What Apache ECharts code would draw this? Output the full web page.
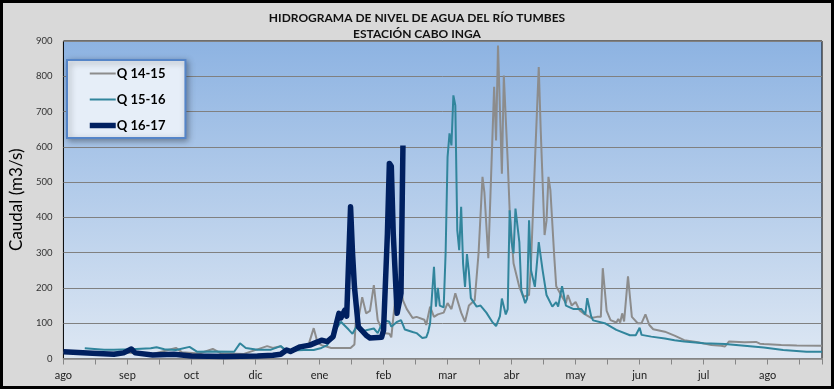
<!DOCTYPE html>
<html>
<head>
<meta charset="utf-8">
<script src="https://cdn.jsdelivr.net/npm/echarts@6/dist/echarts.min.js"></script>
<style>
html,body{margin:0;padding:0;background:#d9d9d9;}
#chart{width:834px;height:389px;}
</style>
</head>
<body>
<div id="chart"></div>
<script>
// Month tick labels (one every 33 days on the day axis)
var monthLabels = ['ago','sep','oct','dic','ene','feb','mar','abr','may','jun','jul','ago'];
var labelStep = 33;
var lastDay = 391;

// [day, caudal m3/s]
var q1415 = [[0,17],[15,15],[31,17],[46,13],[58,30],[61,18],[70,14],[77,27],[81,15],[93,13],[105,35],[108,30],[112,35],[115,20],[121,30],[126,33],[129,86],[131,45],[133,38],[138,30],[148,30],[150,40],[151,137],[152,110],[154,174],[156,128],[158,135],[160,208],[162,109],[165,72],[168,70],[169,60],[172,222],[174,200],[175,165],[177,140],[180,115],[182,118],[186,110],[187,95],[189,147],[191,118],[193,125],[196,130],[198,157],[200,140],[202,185],[205,130],[207,104],[209,150],[212,165],[214,300],[216,515],[217,470],[219,284],[222,770],[223,618],[224,887],[225,890],[226,524],[227,802],[228,680],[229,560],[230,420],[232,270],[235,203],[237,175],[240,180],[241,270],[243,553],[245,826],[246,650],[248,350],[249,390],[250,515],[251,477],[253,288],[254,205],[257,175],[259,157],[260,180],[262,150],[264,160],[266,137],[268,128],[272,115],[275,118],[276,113],[277,118],[278,256],[280,135],[282,109],[285,102],[286,112],[287,102],[288,128],[289,105],[291,233],[293,118],[296,100],[298,100],[300,125],[302,95],[304,83],[310,76],[315,65],[320,52],[327,46],[334,38],[339,36],[341,34],[342,38],[343,48],[351,46],[357,47],[359,42],[361,41],[370,38],[378,37],[391,36]];

var q1516 = [[11,29],[21,25],[26,25],[35,26],[45,29],[48,32],[52,26],[58,24],[65,33],[69,19],[77,20],[88,19],[91,43],[94,30],[100,25],[107,25],[112,35],[115,22],[124,24],[129,24],[133,30],[136,38],[138,58],[139,72],[143,104],[147,82],[149,70],[151,90],[153,78],[156,80],[160,85],[162,72],[165,109],[168,104],[169,90],[172,104],[174,109],[176,82],[180,75],[182,72],[185,58],[187,60],[188,75],[189,100],[191,260],[192,147],[193,200],[194,150],[196,145],[197,300],[198,571],[199,638],[200,604],[201,746],[202,717],[203,364],[204,307],[205,430],[206,269],[207,203],[208,296],[209,245],[210,171],[213,147],[215,150],[216,147],[218,130],[221,104],[223,92],[225,120],[226,170],[228,125],[229,140],[230,420],[231,330],[232,298],[233,425],[235,330],[236,194],[238,157],[239,170],[240,392],[241,250],[243,203],[245,330],[247,250],[249,180],[252,147],[254,160],[255,147],[257,205],[259,150],[263,140],[267,140],[269,125],[270,171],[272,120],[273,108],[279,100],[285,81],[292,66],[295,66],[297,87],[298,67],[303,62],[310,57],[315,52],[320,48],[330,43],[341,41],[351,36],[361,31],[371,24],[383,19],[391,19]];

var q1617 = [[0,19],[5,18],[15,15],[26,12],[31,16],[35,27],[37,16],[46,10],[57,12],[66,7],[83,6],[100,7],[108,9],[112,12],[115,24],[117,20],[122,33],[127,38],[131,47],[133,52],[136,48],[139,62],[142,128],[143,115],[145,137],[146,120],[148,430],[149,300],[150,203],[152,90],[156,66],[158,58],[164,60],[165,80],[167,355],[168,553],[169,545],[170,355],[172,128],[174,185],[175,604]];

var seriesNames = ['Q 14-15','Q 15-16','Q 16-17'];

var chart = echarts.init(document.getElementById('chart'));
var font = 'Lato, "Open Sans", sans-serif';
chart.setOption({
  backgroundColor: '#d9d9d9',
  animation: false,
  title: {
    text: 'HIDROGRAMA DE NIVEL DE AGUA DEL RÍO TUMBES\nESTACIÓN CABO INGA',
    left: 'center', top: 5,
    textStyle: {fontFamily: font, fontSize: 12, fontWeight: 'bold', color: '#111', lineHeight: 16}
  },
  legend: {
    orient: 'vertical', left: 67, top: 60,
    padding: [7, 20, 6, 20],
    itemWidth: 26, itemHeight: 14, itemGap: 13,
    backgroundColor: '#e6eef8',
    borderColor: '#5585c8', borderWidth: 2,
    shadowBlur: 6, shadowColor: 'rgba(0,0,0,0.35)', shadowOffsetX: 2, shadowOffsetY: 2,
    itemStyle: {opacity: 0},
    textStyle: {fontFamily: font, fontSize: 13, fontWeight: 'bold', color: '#000', padding: [0,0,0,-4]},
    data: [
      {name: seriesNames[0], lineStyle: {width: 2}},
      {name: seriesNames[1], lineStyle: {width: 2}},
      {name: seriesNames[2], lineStyle: {width: 5.5}}
    ]
  },
  grid: {
    left: 60, right: 12, top: 41, bottom: 30.5,
    show: true,
    borderColor: '#000', borderWidth: 1,
    backgroundColor: new echarts.graphic.LinearGradient(0,0,0,1,[
      {offset: 0, color: '#8db3e2'}, {offset: 1, color: '#dde7f3'}
    ])
  },
  xAxis: {
    type: 'value', min: 0, max: lastDay, interval: labelStep,
    splitLine: {show: false},
    axisLine: {show: true, lineStyle: {color: '#868686', width: 1.5}},
    axisTick: {show: true, length: 6, inside: false, lineStyle: {color: '#868686'}},
    minorTick: {show: true, splitNumber: 2, length: 6, lineStyle: {color: '#868686'}},
    axisLabel: {
      fontFamily: font, fontSize: 11, color: '#222', margin: 11,
      showMaxLabel: false,
      formatter: function (v) {
        var i = Math.round(v / labelStep);
        if (Math.abs(v - i * labelStep) > 0.01) return '';
        return monthLabels[i] || '';
      }
    }
  },
  yAxis: {
    type: 'value', min: 0, max: 900, interval: 100,
    name: 'Caudal (m3/s)', nameLocation: 'middle', nameGap: 33,
    nameTextStyle: {fontFamily: font, fontSize: 17, color: '#000'},
    axisLine: {show: false},
    axisTick: {show: false},
    splitLine: {show: true, lineStyle: {color: '#808080', width: 1}},
    axisLabel: {fontFamily: font, fontSize: 9.5, color: '#333', margin: 11}
  },
  graphic: [{
    type: 'rect', z: 100, silent: true,
    shape: {x: 1.5, y: 1.5, width: 831, height: 386},
    style: {fill: 'none', stroke: '#000', lineWidth: 3}
  }],
  series: [
    {name: seriesNames[0], type: 'line', data: q1415, symbol: 'none', showSymbol: false,
     lineStyle: {color: '#8c8c8c', width: 2}, itemStyle: {color: '#8c8c8c'}, z: 2},
    {name: seriesNames[1], type: 'line', data: q1516, symbol: 'none', showSymbol: false,
     lineStyle: {color: '#31859c', width: 2}, itemStyle: {color: '#31859c'}, z: 3},
    {name: seriesNames[2], type: 'line', data: q1617, symbol: 'none', showSymbol: false,
     lineStyle: {color: '#002060', width: 5.5, join: 'round'}, itemStyle: {color: '#002060'}, z: 4}
  ]
});
</script>
</body>
</html>
